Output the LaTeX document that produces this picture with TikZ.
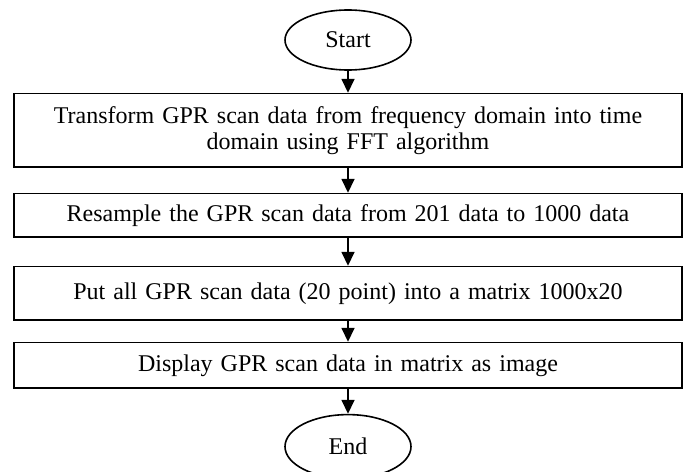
\documentclass[tikz,border=0pt]{standalone}
\usepackage{fontspec}
\setmainfont{Liberation Serif}
\usetikzlibrary{positioning,arrows.meta,shapes.geometric}

\begin{document}
\begin{tikzpicture}[node distance = 12.5pt, auto,
    every node/.style={font=\fontsize{12}{13}\selectfont},
    terminal/.style={draw, ellipse, line width=0.8pt, minimum width=63pt, minimum height=30pt, inner sep=0pt},
    process/.style={draw, rectangle, line width=0.8pt, text width=330pt, inner xsep=2pt, align=center},
    flow/.style={-{Triangle[length=7pt,width=6.5pt]}, line width=0.8pt}
    ]
    \useasboundingbox (0,0) rectangle (342.5pt,-235.5pt);
    \node[terminal] (start) at (174pt,-20pt) {Start};
    \node[process, minimum height=36.7pt, below=11pt of start] (transform) {Transform GPR scan data from frequency domain into time\\ domain using FFT algorithm};
    \node[process, minimum height=21.7pt, below=of transform] (resample) {Resample the GPR scan data from 201 data to 1000 data};
    \node[process, minimum height=26.7pt, below=14pt of resample] (matrix) {Put all GPR scan data (20 point) into a matrix 1000x20};
    \node[process, minimum height=22.7pt, below=10.5pt of matrix] (display) {Display GPR scan data in matrix as image};
    \node[terminal, minimum height=32pt, below=of display] (end) {End};

    \foreach \from/\to in {start/transform,transform/resample,resample/matrix,matrix/display,display/end} {
      \draw[flow] (\from) to (\to);
    };
\end{tikzpicture}
\end{document}
